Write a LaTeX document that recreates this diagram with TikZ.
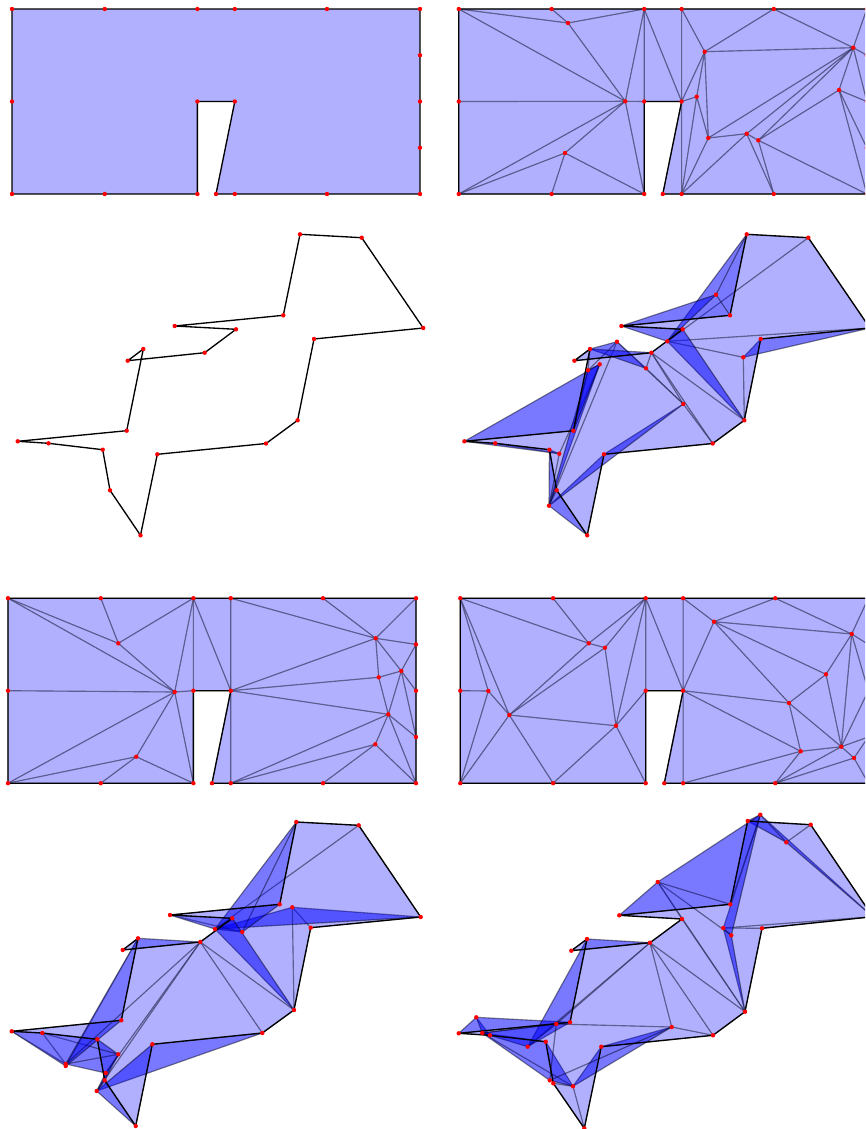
\documentclass[tikz,border=0pt]{standalone}
\tikzset{
  tri/.style={fill=blue,fill opacity=.31,draw=black,draw opacity=.27,line width=.85pt,line join=round},
  shape edge/.style={draw=black,line width=1pt,line join=round},
  vertexdot/.style={fill=red}
}
% triangle lists (same topology at rest and deformed)
\def\meshA{TL/T2/a,T2/T3/a,TL/a/b,a/T3/b,TL/b/L,L/b/B1,b/c/B1,c/B1/B2,c/B2/B3,b/c/B3,b/N1/B3,T3/b/N1,T3/N1/N2,T3/T4/N2,T4/N2/d,T4/T5/d,T5/d/i,T5/T6/i,T6/R1/i,R1/R2/i,i/R2/j,R2/R3/j,R3/R4/j,j/R4/h,i/j/h,i/h/g,i/g/f,i/f/d,d/f/e,d/e/N2,N2/e/B5,e/f/B5,f/g/B5,g/B5/B6,g/h/B6,h/B6/R4,N2/B4/B5}
\def\meshC{TL/T2/a,T2/T3/a,TL/a/b,a/T3/b,TL/b/L,L/b/B1,b/c/B1,c/B1/B2,c/B2/B3,b/c/B3,b/N1/B3,T3/b/N1,T3/N1/N2,T3/T4/N2,T4/N2/d,T4/T5/d,T5/T6/d,T6/R1/d,d/R1/f,d/f/e,d/e/N2,N2/e/g,e/f/g,f/R1/R2,f/R2/R3,f/R3/g,g/R3/R4,g/R4/h,h/R4/B6,h/B6/B5,g/h/B5,N2/g/B5,N2/B4/B5}
\def\meshE{TL/T2/c,T2/T3/c,c/T3/d,TL/c/b,c/d/b,TL/b/a,TL/a/L,L/a/B1,a/b/B1,b/B1/B2,b/B2/e,b/d/e,d/T3/e,T3/e/N1,e/N1/B3,e/B2/B3,T3/N1/N2,T3/T4/N2,T4/N2/f,T4/T5/f,T5/f/g,T5/T6/g,T6/R1/g,R1/R2/g,g/R2/k,R2/R3/k,k/R3/l,l/R3/R4,l/R4/B6,k/l/B6,j/k/B6,j/B6/B5,N2/j/B5,N2/i/j,i/j/k,h/i/k,g/h/k,f/g/h,f/h/i,f/N2/i,N2/B4/B5}
\newcommand\verts[2]{\foreach \n/\vx/\vy in {#2}{\coordinate (#1\n) at (\vx,\vy);}}
\newcommand\outlinepath[1]{\draw[shape edge] (#1TL)--(#1T2)--(#1T3)--(#1T4)--(#1T5)--(#1T6)--(#1R1)--(#1R2)--(#1R3)--(#1R4)--(#1B6)--(#1B5)--(#1B4)--(#1N2)--(#1N1)--(#1B3)--(#1B2)--(#1B1)--(#1L)--cycle;}
\newcommand\meshfill[2]{\foreach \ta/\tb/\tc in #2{\path[tri] (#1\ta)--(#1\tb)--(#1\tc)--cycle;}}
\newcommand\meshdots[2]{\foreach \n in {TL,T2,T3,T4,T5,T6,R1,R2,R3,R4,B6,B5,B4,N2,N1,B3,B2,B1,L,#2}{\fill[vertexdot] (#1\n) circle[radius=2.2];}}
\newcommand\bdots[1]{\foreach \n in {TL,T2,T3,T4,T5,T6,R1,R2,R3,R4,B6,B5,B4,N2,N1,B3,B2,B1,L}{\fill[vertexdot] (#1\n) circle[radius=2.2];}}
\newcommand\rectverts[3]{% prefix, left x, top y
  \verts{#1}{TL/#2+0/#3+0,T2/#2+92.8/#3+0,T3/#2+185.4/#3+0,T4/#2+222.8/#3+0,T5/#2+315/#3+0,T6/#2+408/#3+0,R1/#2+408/#3+46.2,R2/#2+408/#3+92.5,R3/#2+408/#3+138.8,R4/#2+408/#3+185,B6/#2+315/#3+185,B5/#2+222.8/#3+185,B4/#2+204/#3+185,N2/#2+222.8/#3+92.5,N1/#2+185.4/#3+92.5,B3/#2+185.4/#3+185,B2/#2+92.8/#3+185,B1/#2+0/#3+185,L/#2+0/#3+92.5}}
\begin{document}
\begin{tikzpicture}[x=.75pt,y=-.75pt]
\useasboundingbox (0,0) rectangle (865,1129);
\clip (0,0) rectangle (865,1129);
% ---- row 1 left
\rectverts{P-}{12}{9}
\fill[blue,fill opacity=.31] (P-TL)--(P-T2)--(P-T3)--(P-T4)--(P-T5)--(P-T6)--(P-R1)--(P-R2)--(P-R3)--(P-R4)--(P-B6)--(P-B5)--(P-B4)--(P-N2)--(P-N1)--(P-B3)--(P-B2)--(P-B1)--(P-L)--cycle;
\outlinepath{P-}
\bdots{P-}
% ---- row 2 left
\verts{Q-}{B1/300/234.3,L/361.7/237.7,TL/423.2/328,T2/314/339,T3/297.6/420.3,T4/266/443.5,T5/157.3/454.3,T6/140.5/535.3,R1/110/490.3,R2/102.7/449.7,R3/48.5/443.3,R4/17.7/441.3,B6/126.7/430.7,B5/143.3/349,B4/127.7/360.7,N2/204.7/352.7,N1/236/329.3,B3/174.7/326,B2/283.3/315.3}
\outlinepath{Q-}
\bdots{Q-}
% ---- row 1 right: mesh A at rest
\rectverts{A-}{458.8}{9}
\verts{A-}{a/568/23,b/625.3/101.3,c/565/153,d/704.7/51.7,e/696.7/96.7,f/708.3/138,g/746.7/133.7,h/758.3/140.3,i/853.3/47.7,j/839/90}
\meshfill{A-}{\meshA}
\outlinepath{A-}
\meshdots{A-}{a,b,c,d,e,f,g,h,i,j}
% ---- row 2 right: mesh A deformed
\verts{a-}{B1/746.7/234.3,L/808.3/237.7,TL/869.9/328,T2/760.7/339,T3/744.3/420.3,T4/712.7/443.5,T5/604/454.3,T6/587.2/535.3,R1/556.7/490.3,R2/549.4/449.7,R3/495.2/443.3,R4/464.4/441.3,B6/573.4/430.7,B5/590/349,B4/574.4/360.7,N2/651.4/352.7,N1/682.7/329.3,B3/621.4/326,B2/730/315.3}
\verts{a-}{a/743.3/357.3,b/667.3/341.3,c/716/294.7,d/683.3/404,e/646/368.3,f/617/341.7,g/588/370.3,h/599.7/364.3,i/549/505.7,j/559.3/453.7}
\meshfill{a-}{\meshA}
\outlinepath{a-}
\meshdots{a-}{a,b,c,d,e,f,g,h,i,j}
% ---- row 3 left: mesh C at rest
\rectverts{C-}{8}{598.2}
\verts{C-}{a/118.3/643.3,b/174.7/692,c/136.3/756.7,d/375.7/638.3,e/378.7/677.3,f/401.3/671,g/388.3/714.3,h/375.3/744.3}
\meshfill{C-}{\meshC}
\outlinepath{C-}
\meshdots{C-}{a,b,c,d,e,f,g,h}
% ---- row 4 left: mesh C deformed
\verts{c-}{B1/296.3/822,L/358.7/825.3,TL/420.7/917,T2/310.7/927.7,T3/294/1010,T4/262.3/1033,T5/152.3/1044.3,T6/135.7/1126,R1/104.7/1080.3,R2/97.3/1039.3,R3/42.3/1033,R4/11.7/1031.3,B6/121.3/1020.3,B5/138/938.3,B4/122.7/950,N2/200.3/942,N1/232.3/918.3,B3/170/915,B2/279.7/904.3}
\verts{c-}{a/292.3/907.3,b/215/929,c/242.3/932,d/96.7/1091,e/105.7/1073,f/118.3/1054.3,g/65.7/1064,h/65.7/1066}
\meshfill{c-}{\meshC}
\outlinepath{c-}
\meshdots{c-}{a,b,c,d,e,f,g,h}
% ---- row 3 right: mesh E at rest
\rectverts{E-}{460.3}{598.2}
\verts{E-}{a/488.3/691,b/509.3/715,c/588.7/643.3,d/605/647.7,e/616/725.7,f/714/621.7,g/851.7/634,h/826/674.3,i/789/703,j/800.7/751.3,k/841.3/746.7,l/854/758}
\meshfill{E-}{\meshE}
\outlinepath{E-}
\meshdots{E-}{a,b,c,d,e,f,g,h,i,j,k,l}
% ---- row 4 right: mesh E deformed
\verts{e-}{B1/747.7/821,L/810.7/824.7,TL/872.7/916.7,T2/762/928.3,T3/745/1011.7,T4/713/1035.3,T5/601.3/1046.7,T6/584.3/1128.3,R1/553.3/1083.3,R2/545.7/1041.7,R3/490/1035.3,R4/458.7/1033.3,B6/570/1022.3,B5/587/939,B4/571.3/950.7,N2/650/942.7,N1/682/919,B3/619.3/915.3,B2/730.3/904.3}
\verts{e-}{a/786.3/842.3,b/760.3/814.7,c/723.3/928,d/731.3/935.3,e/657.7/882,f/671.7/1027,g/573/1086.3,h/549.7/1080.3,i/556.3/1024,j/527.7/1046.7,k/482.3/1033,l/476.3/1017.3}
\meshfill{e-}{\meshE}
\outlinepath{e-}
\meshdots{e-}{a,b,c,d,e,f,g,h,i,j,k,l}
\end{tikzpicture}
\end{document}
